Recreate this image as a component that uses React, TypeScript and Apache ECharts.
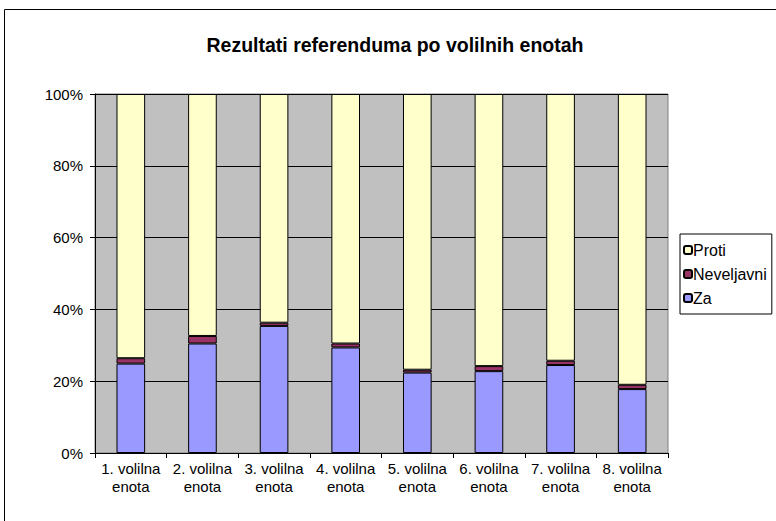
import React, { useEffect, useRef } from "react";
import * as echarts from "echarts";

const categories = [
  "1. volilna\nenota",
  "2. volilna\nenota",
  "3. volilna\nenota",
  "4. volilna\nenota",
  "5. volilna\nenota",
  "6. volilna\nenota",
  "7. volilna\nenota",
  "8. volilna\nenota",
];
const za = [24.9, 30.5, 35.4, 29.4, 22.4, 22.8, 24.5, 17.8];
const neveljavni = [1.5, 2.1, 0.9, 1.1, 0.8, 1.4, 1.2, 1.2];
const proti = za.map((v, i) => +(100 - v - neveljavni[i]).toFixed(1));
const yTicks = [0, 20, 40, 60, 80, 100];

export default function App() {
  const ref = useRef<HTMLDivElement>(null);
  useEffect(() => {
    if (!ref.current) return;
    const chart = echarts.init(ref.current, null, { renderer: "svg" });
    const font = "Liberation Sans, Arial, sans-serif";
    const barStyle = (color: string) => ({
      color,
      borderColor: "#000",
      borderWidth: 1,
    });
    chart.setOption({
      animation: false,
      backgroundColor: "#fff",
      textStyle: { fontFamily: font },
      title: {
        text: "Rezultati referenduma po volilnih enotah",
        left: 390,
        textAlign: "center",
        top: 30,
        textStyle: { fontSize: 19.5, fontWeight: "bold", color: "#000", fontFamily: font },
      },
      graphic: [
        {
          type: "rect",
          shape: { x: 4.5, y: 9.5, width: 900, height: 700 },
          style: { fill: "none", stroke: "#000", lineWidth: 1 },
          silent: true,
        },
      ],
      legend: {
        orient: "vertical",
        left: 680,
        top: 234,
        data: ["Proti", "Neveljavni", "Za"],
        itemWidth: 8,
        itemHeight: 8,
        itemGap: 8,
        padding: [8, 5, 8, 3],
        borderColor: "#000",
        borderWidth: 1,
        backgroundColor: "#fff",
        textStyle: {
          fontSize: 16,
          lineHeight: 16,
          color: "#000",
          fontFamily: font,
          padding: [0, 0, 0, -4],
        },
      },
      grid: {
        left: 95,
        right: 108,
        top: 94,
        bottom: 68,
        show: true,
        backgroundColor: "#C0C0C0",
        borderColor: "#808080",
        borderWidth: 1,
      },
      xAxis: {
        type: "category",
        data: categories,
        boundaryGap: true,
        axisLine: { show: true, lineStyle: { color: "#000" } },
        axisTick: { show: true, length: 5, lineStyle: { color: "#000" } },
        axisLabel: { fontSize: 15, color: "#000", lineHeight: 18, margin: 6, interval: 0 },
      },
      yAxis: {
        type: "value",
        min: 0,
        max: 100,
        interval: 20,
        axisLine: { show: true, lineStyle: { color: "#000" } },
        axisTick: { show: true, length: 5, lineStyle: { color: "#000" } },
        splitLine: { show: true, lineStyle: { color: "#000", width: 1 } },
        axisLabel: {
          fontSize: 15,
          color: "#000",
          margin: 12,
          formatter: (v: number) => (yTicks.includes(v) ? v + "%" : ""),
        },
      },
      series: [
        {
          name: "Za",
          type: "bar",
          stack: "t",
          data: za,
          barCategoryGap: "60%",
          itemStyle: barStyle("#9999FF"),
        },
        {
          name: "Neveljavni",
          type: "bar",
          stack: "t",
          data: neveljavni,
          itemStyle: barStyle("#993366"),
        },
        {
          name: "Proti",
          type: "bar",
          stack: "t",
          data: proti,
          itemStyle: barStyle("#FFFFCC"),
        },
      ],
    });
    return () => chart.dispose();
  }, []);
  return (
    <div
      ref={ref}
      style={{ position: "fixed", left: 0, top: 0, width: 776, height: 521 }}
    />
  );
}
